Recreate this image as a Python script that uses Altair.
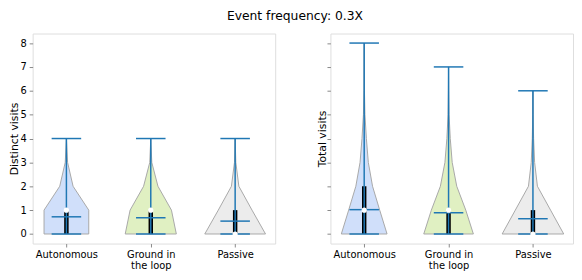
import json
import altair as alt
import pandas as pd

# ---------------- data ----------------
groups = ["Autonomous", "Ground in the loop", "Passive"]
positions = [1, 2, 3]
x_labels = ["Autonomous", ["Ground in", "the loop"], "Passive"]
fills = ["#d0dffa", "#e0f0c2", "#ececec"]

# violin half-widths (x data units) at integer visit counts 0..max
distinct_widths = {
    "Autonomous": [0.265, 0.265, 0.079, 0.014, 0.0],
    "Ground in the loop": [0.303, 0.245, 0.085, 0.012, 0.0],
    "Passive": [0.36, 0.20, 0.044, 0.008, 0.0],
}
total_widths = {
    "Autonomous": [0.271, 0.184, 0.099, 0.049, 0.026, 0.009, 0.003, 0.001, 0.0],
    "Ground in the loop": [0.294, 0.204, 0.097, 0.043, 0.020, 0.006, 0.002, 0.0],
    "Passive": [0.365, 0.209, 0.053, 0.020, 0.008, 0.002, 0.0],
}

# summary statistics per group
distinct_min = [0, 0, 0]
distinct_max = [4, 4, 4]
distinct_mean = [0.72, 0.68, 0.54]
distinct_median = [1, 1, 0]
distinct_q1 = [0, 0, 0]
distinct_q3 = [1, 1, 1]

total_min = [0, 0, 0]
total_max = [8, 7, 6]
total_mean = [1.02, 0.89, 0.64]
total_median = [1, 1, 0]
total_q1 = [0, 0, 0]
total_q3 = [2, 1, 1]

cap_half = 0.175
y_ticks = list(range(0, 9))

label_expr = " : ".join(
    f"datum.value == {p} ? {json.dumps(l)}" for p, l in zip(positions, x_labels)
) + " : ''"

BLUE = "#1f77b4"


def violin_df(widths):
    rows = []
    for g, p in zip(groups, positions):
        for yv, w in enumerate(widths[g]):
            rows.append({"group": g, "y": yv, "lo": p - w, "hi": p + w})
    return pd.DataFrame(rows)


def stats_df(vmin, vmax, mean, median, q1, q3):
    return pd.DataFrame({
        "group": groups, "pos": positions, "vmin": vmin, "vmax": vmax,
        "mean": mean, "median": median, "q1": q1, "q3": q3,
    })


def caps_df(vmin, vmax, mean):
    rows = []
    for p, a, b, m in zip(positions, vmin, vmax, mean):
        for v in (a, b, m):
            rows.append({"y": v, "xl": p - cap_half, "xr": p + cap_half})
    return pd.DataFrame(rows)


xscale = alt.Scale(domain=[0.6, 3.475], nice=False, zero=False)
yscale = alt.Scale(domain=[-0.4, 8.4], nice=False, zero=False)


def panel(widths, vmin, vmax, mean, median, q1, q3, ytitle, show_labels, title_x):
    vdf = violin_df(widths)
    sdf = stats_df(vmin, vmax, mean, median, q1, q3)
    cdf = caps_df(vmin, vmax, mean)

    xaxis = alt.Axis(values=positions, labelExpr=label_expr, title=None, grid=False,
                     tickSize=3.5, labelPadding=2.5, labelLineHeight=11.5,
                     labelBaseline="top", domain=False, labelOverlap=False)
    yaxis = alt.Axis(values=y_ticks, title=ytitle, grid=False, tickSize=3.5,
                     labels=show_labels, labelPadding=3, titleX=title_x,
                     titleY=106.5, titleAlign="center", titleBaseline="middle",
                     titleFontWeight="normal", labelOverlap=False, domain=False)

    def X(field):
        return alt.X(field, scale=xscale, axis=xaxis)

    def Y(field):
        return alt.Y(field, scale=yscale, axis=yaxis)

    violins = alt.Chart(vdf).mark_area(
        orient="horizontal", stroke="#a8a8a8", strokeWidth=1, opacity=1
    ).encode(
        y=Y("y:Q"),
        x=X("lo:Q"),
        x2="hi:Q",
        fill=alt.Fill("group:N", scale=alt.Scale(domain=groups, range=fills), legend=None),
        detail="group:N",
    )
    iqr = alt.Chart(sdf).mark_rule(color="black", strokeWidth=4.5).encode(
        x=X("pos:Q"), y=Y("q1:Q"), y2="q3:Q"
    )
    bars = alt.Chart(sdf).mark_rule(color=BLUE, strokeWidth=1.5).encode(
        x=X("pos:Q"), y=Y("vmin:Q"), y2="vmax:Q"
    )
    caps = alt.Chart(cdf).mark_rule(color=BLUE, strokeWidth=1.5).encode(
        x=X("xl:Q"), x2="xr:Q", y=Y("y:Q")
    )
    dots = alt.Chart(sdf).mark_point(filled=True, color="white", opacity=1, size=28).encode(
        x=X("pos:Q"), y=Y("median:Q")
    )
    return alt.layer(violins, iqr, bars, caps, dots).properties(width=246, height=213)


left = panel(distinct_widths, distinct_min, distinct_max, distinct_mean, distinct_median,
             distinct_q1, distinct_q3, "Distinct visits", True, -18)
right = panel(total_widths, total_min, total_max, total_mean, total_median,
              total_q1, total_q3, "Total visits", False, -8)

chart = alt.hconcat(left, right, spacing=40).properties(
    title=alt.Title("Event frequency: 0.3X", fontSize=12.5, fontWeight="normal",
                    anchor="middle", offset=11, dx=4, font="DejaVu Sans", color="black"),
    padding={"left": 0, "top": 0, "right": 0, "bottom": 0},
).configure_view(
    stroke="#333333", strokeWidth=1
).configure_axis(
    labelFont="DejaVu Sans", titleFont="DejaVu Sans", labelFontSize=10,
    titleFontSize=10, titleFontWeight="normal", labelColor="black", titleColor="black",
    tickColor="#333333", tickWidth=1
).configure(font="DejaVu Sans", background="white")

chart.save("out.html", embed_options={"renderer": "svg", "actions": False})
